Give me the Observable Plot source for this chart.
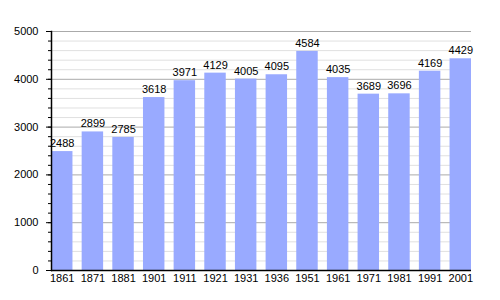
<!DOCTYPE html>
<html>
<head>
<meta charset="utf-8">
<script src="https://cdn.jsdelivr.net/npm/d3@7"></script>
<script src="https://cdn.jsdelivr.net/npm/@observablehq/plot@0.6"></script>
<style>
  html, body { margin: 0; padding: 0; background: #fff; }
  #chart svg { display: block; }
</style>
</head>
<body>
<div id="chart"></div>
<script>
const years = ["1861","1871","1881","1901","1911","1921","1931","1936","1951","1961","1971","1981","1991","2001"];
const population = [2488, 2899, 2785, 3618, 3971, 4129, 4005, 4095, 4584, 4035, 3689, 3696, 4169, 4429];
const majorTicks = [0, 1000, 2000, 3000, 4000, 5000];
const minorTicks = d3.range(0, 5001, 200);

const data = years.map((y, i) => ({year: y, value: population[i]}));

const chart = Plot.plot({
  width: 500,
  height: 300,
  marginTop: 31,
  marginBottom: 30,
  marginLeft: 51,
  marginRight: 29,
  style: {fontFamily: "'Liberation Sans', Arial, sans-serif", fontSize: "11px", color: "#000", background: "#fff"},
  x: {domain: years, paddingInner: 0.3, paddingOuter: 0, round: false, axis: null},
  y: {domain: [0, 5000], axis: null},
  marks: [
    Plot.ruleY(minorTicks.filter(d => d % 1000 !== 0), {stroke: "#e0e0e0", strokeWidth: 1}),
    Plot.ruleY(majorTicks, {stroke: "#aaaaaa", strokeWidth: 1}),
    Plot.barY(data, {x: "year", y: "value", fill: "#99aaff"}),
    Plot.text(data, {x: "year", y: "value", text: d => String(d.value), dy: -8, fill: "#000", fontSize: 11}),
    Plot.axisY(minorTicks, {tickSize: 3, tickFormat: () => "", stroke: "#000", strokeOpacity: 1, label: null}),
    Plot.axisY(majorTicks, {tickSize: 5, tickPadding: 8, tickFormat: d => String(d), stroke: "#000", strokeOpacity: 1, fill: "#000", fontSize: 11, label: null}),
    Plot.axisX({tickSize: 0, tickPadding: 4, fill: "#000", fontSize: 11, label: null}),
    Plot.frame({anchor: "left", stroke: "#000", strokeWidth: 1.5}),
    Plot.ruleY([0], {stroke: "#000", strokeWidth: 1.5})
  ]
});
document.getElementById("chart").appendChild(chart);
</script>
</body>
</html>
